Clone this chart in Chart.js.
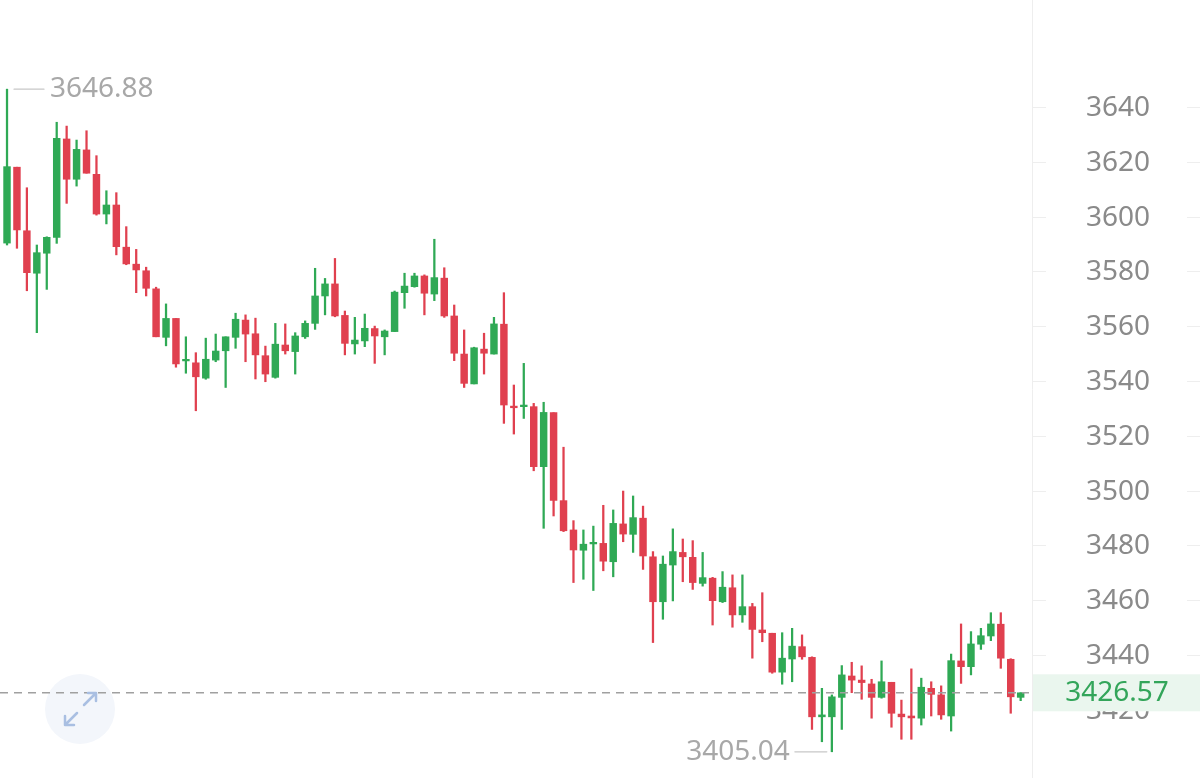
<!DOCTYPE html>
<html>
<head>
<meta charset="utf-8">
<script src="https://cdn.jsdelivr.net/npm/chart.js@4"></script>
<style>
  html, body { margin: 0; padding: 0; background: #fff; }
  #wrap { width: 1200px; height: 778px; }
</style>
</head>
<body>
<div id="wrap"><canvas id="myChart"></canvas></div>
<script>
// candle values, left to right
var opens  = [3590.7,3618.4,3595.2,3579.7,3587.0,3592.8,3628.7,3614.0,3624.7,3615.8,
              3601.3,3604.6,3589.2,3583.0,3580.6,3574.0,3556.3,3563.2,3547.7,3547.0,
              3541.4,3548.0,3551.4,3556.3,3562.6,3557.6,3549.6,3541.7,3553.5,3551.1,
              3556.5,3561.4,3571.4,3575.8,3564.3,3553.9,3555.0,3559.5,3556.5,3558.4,
              3572.6,3574.8,3578.7,3572.1,3577.9,3564.1,3550.2,3539.3,3552.0,3550.2,
              3561.1,3531.2,3531.0,3531.0,3509.1,3528.8,3496.7,3486.0,3478.6,3480.9,
              3481.1,3474.4,3488.2,3484.4,3490.3,3476.2,3459.8,3473.2,3477.8,3476.0,
              3466.5,3468.4,3459.8,3464.9,3455.0,3458.0,3449.5,3448.3,3434.1,3438.9,
              3443.4,3439.5,3417.8,3417.8,3424.9,3432.7,3431.2,3429.8,3424.9,3430.4,
              3418.8,3418.1,3417.3,3428.2,3425.8,3418.1,3438.2,3436.1,3444.3,3447.3,
              3451.6,3438.8,3424.9];
var highs  = [3646.88,3618.4,3610.9,3590.0,3593.0,3634.8,3633.4,3628.3,3631.7,3622.6,
              3609.8,3609.1,3596.7,3588.4,3581.9,3574.6,3568.5,3563.2,3556.5,3550.7,
              3556.0,3557.5,3556.5,3565.1,3564.5,3563.3,3553.1,3561.4,3561.2,3558.0,
              3562.3,3581.5,3577.8,3585.1,3565.9,3563.6,3564.8,3560.4,3559.0,3573.2,
              3579.7,3579.7,3579.1,3592.1,3581.7,3568.1,3559.0,3552.7,3557.8,3563.6,
              3572.6,3538.9,3546.8,3532.2,3532.6,3528.8,3516.2,3489.4,3486.0,3487.4,
              3495.0,3493.3,3500.2,3498.4,3494.7,3478.1,3476.5,3486.4,3482.7,3482.1,
              3477.8,3468.7,3470.8,3469.6,3469.6,3459.2,3463.1,3448.3,3448.5,3450.1,
              3447.7,3439.7,3428.2,3425.8,3436.5,3437.7,3436.4,3431.5,3438.2,3430.4,
              3423.9,3435.3,3431.9,3430.6,3429.1,3440.7,3451.7,3448.9,3450.1,3455.8,
              3455.8,3439.0,3426.6];
var lows   = [3590.0,3588.8,3573.3,3558.0,3573.8,3590.6,3605.2,3611.5,3616.2,3600.9,
              3597.7,3586.4,3582.8,3572.6,3571.4,3556.5,3553.2,3545.4,3543.2,3529.5,
              3541.0,3547.4,3538.0,3552.3,3547.4,3541.1,3540.1,3541.4,3550.2,3542.9,
              3555.9,3559.2,3564.5,3563.8,3549.9,3550.2,3552.9,3546.8,3549.9,3558.4,
              3566.9,3574.6,3564.5,3569.7,3563.6,3547.8,3538.0,3539.3,3542.9,3550.2,
              3524.9,3521.0,3526.7,3507.6,3486.6,3491.1,3485.4,3466.8,3468.0,3463.9,
              3471.1,3468.9,3481.7,3477.8,3471.6,3444.9,3453.4,3460.1,3467.1,3464.3,
              3465.5,3451.3,3459.5,3450.5,3452.3,3439.2,3445.2,3433.7,3429.7,3430.6,
              3438.8,3413.2,3408.7,3405.04,3413.2,3426.6,3424.2,3417.3,3424.6,3414.0,
              3409.6,3409.6,3414.8,3418.1,3416.9,3412.6,3430.0,3433.1,3442.4,3445.6,
              3435.5,3419.1,3423.7];
var closes = [3618.6,3595.5,3579.9,3587.2,3592.8,3628.9,3614.0,3624.9,3616.2,3601.3,
              3604.6,3589.4,3583.1,3580.9,3574.2,3556.5,3563.2,3546.6,3548.0,3541.9,
              3548.3,3551.3,3556.5,3562.9,3557.5,3549.9,3542.9,3553.8,3551.4,3556.8,
              3561.4,3571.4,3575.8,3564.1,3554.1,3555.3,3559.6,3556.8,3558.6,3572.8,
              3575.0,3578.7,3572.4,3578.1,3564.1,3550.5,3539.5,3552.5,3550.5,3561.2,
              3531.6,3530.6,3531.4,3509.1,3528.9,3496.8,3485.7,3478.7,3480.8,3481.3,
              3474.6,3488.4,3484.5,3490.5,3476.5,3459.8,3473.5,3478.1,3476.2,3466.8,
              3468.6,3460.2,3465.1,3455.0,3458.0,3449.7,3448.5,3434.1,3439.2,3443.6,
              3439.7,3417.8,3418.5,3425.1,3433.1,3431.2,3430.3,3424.9,3430.6,3419.1,
              3417.8,3417.4,3428.6,3426.0,3418.5,3438.3,3436.1,3444.4,3447.4,3451.7,
              3439.2,3425.1,3426.57];
var yTicks = [3420,3440,3460,3480,3500,3520,3540,3560,3580,3600,3620,3640];

var UP = '#2fa955', DOWN = '#e0404f';
var FONT = '"Noto Sans", Roboto, sans-serif';

var idx = opens.map(function(v, i){ return i; });
var colors = idx.map(function(i){ return closes[i] >= opens[i] ? UP : DOWN; });

// extra drawing: short grid marks in the axis area, price markers, icon
var marks = {
  id: 'marks',
  beforeDraw: function(chart){
    var ys = chart.scales.y, ctx = chart.ctx;
    ctx.save();
    ctx.strokeStyle = '#eeeeee';
    ctx.lineWidth = 1;
    yTicks.forEach(function(v){
      var py = Math.round(ys.getPixelForValue(v)) - 0.5;
      ctx.beginPath();
      ctx.moveTo(ys.left, py); ctx.lineTo(ys.left + 14, py);
      ctx.moveTo(ys.right - 13, py); ctx.lineTo(ys.right, py);
      ctx.stroke();
    });
    ctx.restore();
  },
  afterDatasetsDraw: function(chart){
    var ctx = chart.ctx, xs = chart.scales.x, ys = chart.scales.y, area = chart.chartArea;
    ctx.save();
    // expand button
    ctx.fillStyle = '#f3f6fb';
    ctx.beginPath(); ctx.arc(80, 709, 35, 0, Math.PI * 2); ctx.fill();

    // last price dashed line
    var last = closes[closes.length - 1];
    var py = ys.getPixelForValue(last);
    ctx.strokeStyle = '#a0a0a0';
    ctx.lineWidth = 1.5;
    ctx.setLineDash([8, 6]);
    ctx.beginPath(); ctx.moveTo(area.left, py); ctx.lineTo(area.right - 3, py); ctx.stroke();
    ctx.setLineDash([]);

    // expand arrows
    ctx.strokeStyle = '#a9bfe2';
    ctx.lineWidth = 2.5;
    ctx.lineCap = 'round';
    ctx.lineJoin = 'round';
    ctx.beginPath();
    ctx.moveTo(84, 705); ctx.lineTo(96, 693);
    ctx.moveTo(88, 693); ctx.lineTo(96, 693); ctx.lineTo(96, 701);
    ctx.moveTo(77, 713); ctx.lineTo(65, 725);
    ctx.moveTo(65, 716); ctx.lineTo(65, 725); ctx.lineTo(74, 725);
    ctx.stroke();

    // highest / lowest markers
    var hi = Math.max.apply(null, highs), lo = Math.min.apply(null, lows);
    var hx = xs.getPixelForValue(highs.indexOf(hi)), hy = ys.getPixelForValue(hi);
    var lx = xs.getPixelForValue(lows.indexOf(lo)), ly = ys.getPixelForValue(lo);
    ctx.strokeStyle = '#c8c8c8';
    ctx.lineWidth = 1.2;
    ctx.beginPath();
    ctx.moveTo(hx + 7, hy); ctx.lineTo(hx + 37, hy);
    ctx.moveTo(lx - 5, ly); ctx.lineTo(lx - 37, ly);
    ctx.stroke();
    ctx.fillStyle = '#a8a8a8';
    ctx.font = '28px ' + FONT;
    ctx.textBaseline = 'middle';
    ctx.textAlign = 'left';
    ctx.fillText(hi.toFixed(2), hx + 43, hy);
    ctx.textAlign = 'right';
    ctx.fillText(lo.toFixed(2), lx - 42, ly);
    ctx.restore();
  },
  afterDraw: function(chart){
    var ctx = chart.ctx, ys = chart.scales.y;
    var last = closes[closes.length - 1];
    var py = ys.getPixelForValue(last);
    ctx.save();
    ctx.fillStyle = '#eaf6ee';
    ctx.fillRect(ys.left + 1, py - 18.5, ys.right - ys.left - 1, 37);
    ctx.fillStyle = '#33a55a';
    ctx.font = '28px ' + FONT;
    ctx.textAlign = 'center';
    ctx.textBaseline = 'middle';
    ctx.fillText(last.toFixed(2), ys.left + (ys.right - ys.left) / 2 + 1, py);
    ctx.restore();
  }
};

var ctx = document.getElementById('myChart').getContext('2d');
var candleChart = new Chart(ctx, {
  type: 'bar',
  data: {
    datasets: [{
      label: 'wick',
      data: idx.map(function(i){ return {x: i, y: [lows[i], highs[i]]}; }),
      backgroundColor: colors,
      barThickness: 1.6,
      grouped: false,
      order: 2
    }, {
      label: 'body',
      data: idx.map(function(i){ return {x: i, y: [opens[i], closes[i]]}; }),
      backgroundColor: colors,
      barThickness: 6.8,
      minBarLength: 1.6,
      grouped: false,
      order: 1
    }]
  },
  options: {
    responsive: true,
    maintainAspectRatio: false,
    animation: false,
    layout: { padding: 0 },
    plugins: { legend: { display: false }, tooltip: { enabled: false } },
    scales: {
      x: {
        type: 'linear', min: -0.706, max: 103.14, display: false,
        offset: false, bounds: 'data', grid: { offset: false }
      },
      y: {
        position: 'right',
        min: 3395.47,
        max: 3679.42,
        afterBuildTicks: function(s){ s.ticks = yTicks.map(function(v){ return {value: v}; }); },
        afterFit: function(s){ s.width = 168; s.paddingTop = 0; s.paddingBottom = 0; },
        grid: { display: false },
        border: { display: true, color: '#eeeeee', width: 1 },
        ticks: {
          crossAlign: 'near',
          padding: 46,
          color: '#8a8a8a',
          font: { family: FONT, size: 28 },
          callback: function(v){ return v; }
        }
      }
    }
  },
  plugins: [marks]
});
</script>
</body>
</html>
